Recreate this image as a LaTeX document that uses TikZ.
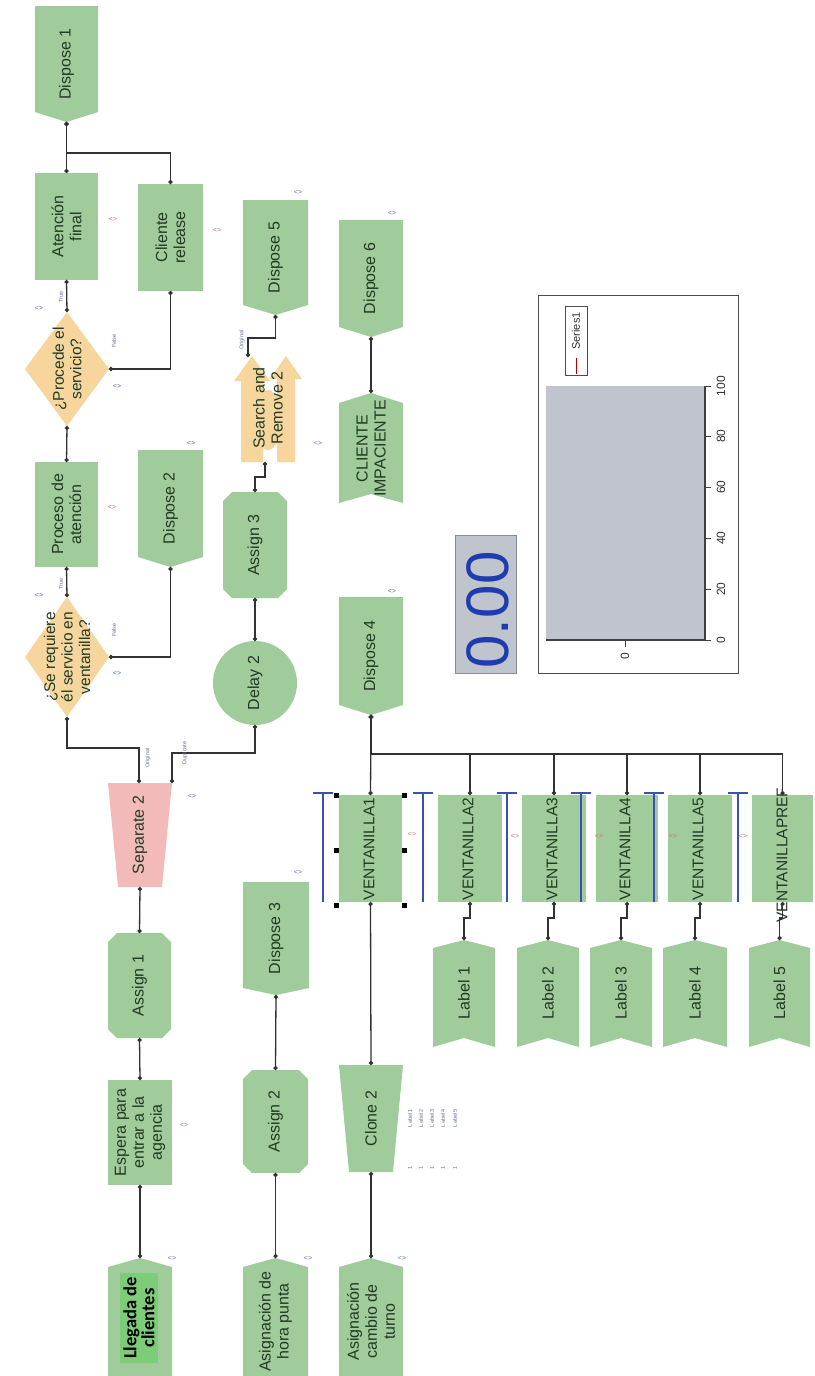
\documentclass[tikz,border=0pt]{standalone}
\usepackage{fontspec}
\setmainfont{Liberation Sans}
\newfontfamily\llegfont{Carlito}
\usetikzlibrary{arrows.meta}
\definecolor{gfill}{RGB}{160,203,155}
\definecolor{ofill}{RGB}{247,214,158}
\definecolor{pfill}{RGB}{243,186,186}
\definecolor{txtc}{RGB}{34,58,36}
\definecolor{linec}{RGB}{50,50,50}
\definecolor{resblue}{RGB}{60,80,175}
\definecolor{animblue}{RGB}{95,105,200}
\definecolor{animred}{RGB}{215,110,110}
\definecolor{tinyc}{RGB}{100,110,150}
\definecolor{brightg}{RGB}{125,205,120}
\definecolor{chartg}{RGB}{192,196,204}
\definecolor{digblue}{RGB}{30,60,175}
% name, x1, x2, y1, y2, text
\newcommand\rectblk[6]{%
  \fill[gfill] (#2,#4) rectangle (#3,#5);
  \coordinate (#1-t) at ({(#2+#3)/2},#4);
  \coordinate (#1-b) at ({(#2+#3)/2},#5);
  \node[txt] (#1) at ({(#2+#3)/2},{(#4+#5)/2}) {#6};}
% name, x1, x2, ytop, yside, ypoint, text
\newcommand\dispblk[7]{%
  \fill[gfill] (#2,#4) -- (#3,#4) -- (#3,#5) -- ({(#2+#3)/2},#6) -- (#2,#5) -- cycle;
  \coordinate (#1-t) at ({(#2+#3)/2},#4);
  \coordinate (#1-b) at ({(#2+#3)/2},#6);
  \node[txt] (#1) at ({(#2+#3)/2},{(#4+#6)/2}) {#7};}
% name, x1, x2, yapex, yside, ybottom, text
\newcommand\createblk[7]{%
  \fill[gfill] (#2,#6) -- (#2,#5) -- ({(#2+#3)/2},#4) -- (#3,#5) -- (#3,#6) -- cycle;
  \coordinate (#1-t) at ({(#2+#3)/2},#4);
  \node[txt] (#1) at ({(#2+#3)/2},{(#5+#6)/2}) {#7};}
% name, x1, x2, y1, y2, text
\newcommand\octblk[6]{%
  \fill[gfill] ({#2+9},#4) -- ({#3-9},#4) -- (#3,{#4+9}) -- (#3,{#5-9}) -- ({#3-9},#5) -- ({#2+9},#5) -- (#2,{#5-9}) -- (#2,{#4+9}) -- cycle;
  \coordinate (#1-t) at ({(#2+#3)/2},#4);
  \coordinate (#1-b) at ({(#2+#3)/2},#5);
  \node[txt] (#1) at ({(#2+#3)/2},{(#4+#5)/2}) {#6};}
% name, colour, x1, x2, ytop, ybottom, inset, text
\newcommand\trapblk[8]{%
  \fill[#2] (#3,#5) -- (#4,#5) -- ({#4-#7},#6) -- ({#3+#7},#6) -- cycle;
  \coordinate (#1-t) at ({(#3+#4)/2},#5);
  \coordinate (#1-b) at ({(#3+#4)/2},#6);
  \node[txt] (#1) at ({(#3+#4)/2},{(#5+#6)/2}) {#8};}
% name, x1, x2, yapex, yside, ybottomside, ynotch, text
\newcommand\labelblk[8]{%
  \fill[gfill] (#2,#5) -- ({(#2+#3)/2},#4) -- (#3,#5) -- (#3,#6) -- ({(#2+#3)/2},#7) -- (#2,#6) -- cycle;
  \coordinate (#1-t) at ({(#2+#3)/2},#4);
  \coordinate (#1-b) at ({(#2+#3)/2},#7);
  \node[txt] (#1) at ({(#2+#3)/2},{(#5+#7)/2}) {#8};}
\begin{document}
\begin{tikzpicture}[x=1pt,y=-1pt,
  txt/.style={rotate=90,align=center,font=\fontsize{16}{18}\selectfont,text=txtc,inner sep=0pt},
  dtxt/.style={txt,font=\fontsize{15.5}{17.5}\selectfont},
  vtxt/.style={txt,font=\fontsize{15.5}{17}\selectfont},
  conn/.style={draw=linec,line width=1.3pt,{Circle[length=4pt]}-{Circle[length=4pt]}},
  res/.style={draw=resblue,line width=1.4pt},
  anim/.style={font=\fontsize{7}{7}\selectfont,inner sep=0pt},
  tinylbl/.style={rotate=90,font=\fontsize{5.5}{6}\selectfont,text=tinyc,inner sep=0pt},
  ctxt/.style={rotate=90,font=\fontsize{12}{12}\selectfont,text=black!80,inner sep=0pt}]
\useasboundingbox (0,0) rectangle (814,1376);
\fill[white] (0,0) rectangle (814,1376);

% ---------- column 1
\dispblk{d1}{35}{98}{6}{112}{122}{Dispose 1}
\rectblk{atn}{35}{98}{173}{280}{Atención\\final}
\rectblk{cli}{138}{203}{184}{291}{Cliente\\release}
\fill[ofill] (67,312) -- (109,369) -- (67,426) -- (25,369) -- cycle;
\node[dtxt] (dec1) at (67,369) {¿Procede el\\servicio?};
\coordinate (dec1-t) at (67,312);
\coordinate (dec1-b) at (67,426);
\coordinate (dec1-r) at (109,369);
\rectblk{pa}{35}{98}{462}{567}{Proceso de\\atención}
\dispblk{d2}{138}{203}{450}{557}{567}{Dispose 2}
\fill[ofill] (67,597) -- (109,657) -- (67,717) -- (25,657) -- cycle;
\node[dtxt] (dec2) at (67,657) {¿Se requiere\\él servicio en\\ventanilla?};
\coordinate (dec2-t) at (67,597);
\coordinate (dec2-b) at (67,717);
\coordinate (dec2-r) at (109,657);
\trapblk{sep}{pfill}{108}{172}{783}{887}{10}{Separate 2}
\coordinate (sep-o1) at (139,783);
\coordinate (sep-o2) at (172,783);
\octblk{as1}{108}{171}{933}{1038}{Assign 1}
\rectblk{esp}{108}{172}{1080}{1185}{Espera para\\entrar a la\\agencia}
\createblk{lleg}{108}{172}{1258}{1267}{1376}{}
\fill[brightg] (120,1273) rectangle (158,1363);
\node[rotate=90,align=center,font=\llegfont\bfseries\fontsize{18.5}{18}\selectfont,text=black,inner sep=0pt] (llegtxt) at (139,1318) {Llegada de\\clientes};

% ---------- column 2
\fill[gfill] (255,683) circle (42);
\node[txt] (del) at (255,683) {Delay 2};
\coordinate (del-t) at (255,641);
\coordinate (del-b) at (255,725);
\octblk{as3}{223}{287}{492}{598}{Assign 3}
% search and remove
\fill[ofill] (241,462) -- (241,381) -- (234,381) -- (252,356) -- (270,381) -- (263,381) -- (263,462) -- cycle;
\fill[ofill] (277,462) -- (277,379) -- (270,379) -- (286,356) -- (302,379) -- (295,379) -- (295,462) -- cycle;
\fill[ofill] (268,420) ellipse (14 and 30);
\node[txt] (sr) at (268,408) {Search and\\Remove 2};
\coordinate (sr-t) at (248,357);
\coordinate (sr-b) at (265,462);
\dispblk{d5}{243}{308}{200}{305}{315}{Dispose 5}
\dispblk{d3}{243}{309}{882}{988}{995}{Dispose 3}
\octblk{as2}{243}{308}{1070}{1173}{Assign 2}
\createblk{hp}{243}{308}{1258}{1267}{1376}{Asignación de\\hora punta}

% ---------- column 3
\dispblk{d6}{339}{403}{220}{327}{337}{Dispose 6}
\labelblk{ci}{339}{403}{393}{403}{503}{494}{CLIENTE\\IMPACIENTE}
\dispblk{d4}{339}{403}{597}{705}{715}{Dispose 4}
\trapblk{cl}{gfill}{339}{403}{1065}{1172}{10}{Clone 2}
\createblk{ct}{339}{403}{1258}{1267}{1376}{Asignación\\cambio de\\turno}

% ---------- ventanillas
\foreach \vn/\xa/\xb in {v1/339/402, v2/438/502, v3/522/586, v4/596/658, v5/668/732, v6/752/813} {
  \fill[gfill] (\xa,795) rectangle (\xb,902);
  \coordinate (\vn-t) at ({(\xa+\xb)/2},795);
  \coordinate (\vn-b) at ({(\xa+\xb)/2},902);
}
\node[vtxt] (v1) at (369,849) {VENTANILLA1};
\node[vtxt] (v2) at (468,849) {VENTANILLA2};
\node[vtxt] (v3) at (552,849) {VENTANILLA3};
\node[vtxt] (v4) at (625,849) {VENTANILLA4};
\node[vtxt] (v5) at (698,849) {VENTANILLA5};
\node[vtxt] (v6) at (782,855) {VENTANILLAPREF};
\foreach \rx in {323,423,507,581,654,738} {
  \draw[res] (\rx,793) -- (\rx,902);
  \draw[res] ({\rx-10},793) -- ({\rx+10},793);
}
\foreach \hx in {336,404} \foreach \hy in {795,850,905}
  \fill[black] ({\hx-2.5},{\hy-2.5}) rectangle ++(5,5);

% ---------- labels
\labelblk{lb1}{433}{495}{940}{948}{1047}{1038}{Label 1}
\labelblk{lb2}{517}{579}{940}{948}{1047}{1038}{Label 2}
\labelblk{lb3}{590}{652}{940}{948}{1047}{1038}{Label 3}
\labelblk{lb4}{663}{727}{940}{948}{1047}{1038}{Label 4}
\labelblk{lb5}{749}{810}{940}{948}{1047}{1038}{Label 5}

% ---------- connectors
\draw[conn] (atn-t) -- (d1-b);
\draw[conn] (cli-t) -- ++(0,-31) -| (d1-b);
\draw[conn] (dec1-t) -- (atn-b);
\draw[conn] (dec1-r) -| (cli-b);
\draw[conn] (pa-t) -- (dec1-b);
\draw[conn] (dec2-t) -- (pa-b);
\draw[conn] (dec2-r) -| (d2-b);
\draw[conn] (sep-o1) -- ++(0,-35) -| (dec2-b);
\draw[conn] (sep-o2) -- ++(0,-30) -| (del-b);
\draw[conn] (del-t) -- (as3-b);
\draw[conn] (as3-t) -- ++(0,-15) -| (sr-b);
\draw[conn] (sr-t) -- ++(0,-19) -| (d5-b);
\draw[conn] (ci-t) -- (d6-b);
\draw[conn] (as1-t) -- (sep-b);
\draw[conn] (esp-t) -- (as1-b);
\draw[conn] (lleg-t) -- (esp-b);
\draw[conn] (as2-t) -- (d3-b);
\draw[conn] (hp-t) -- (as2-b);
\draw[conn] (v1-t) -- (d4-b);
\foreach \vn in {v2,v3,v4,v5,v6}
  \draw[conn] (\vn-t) -- ++(0,-41) -| (d4-b);
\draw[conn] (v1-b) -- (cl-t);
\draw[conn] (ct-t) -- (cl-b);
\draw[conn] (v2-b) -- ++(0,16) -| (lb1-t);
\draw[conn] (v3-b) -- ++(0,16) -| (lb2-t);
\draw[conn] (v4-b) -- ++(0,16) -| (lb3-t);
\draw[conn] (v5-b) -- ++(0,16) -| (lb4-t);
\draw[conn] (v6-b) -- ++(0,16) -| (lb5-t);

% ---------- branch labels
\node[tinylbl] (t1) at (61,297) {True};
\node[tinylbl] (f1) at (114,341) {False};
\node[tinylbl] (t2) at (61,584) {True};
\node[tinylbl] (f2) at (114,630) {False};
\node[tinylbl] (o1) at (148,758) {Original};
\node[tinylbl] (u1) at (185,753) {Duplicate};
\node[tinylbl] (o2) at (242,340) {Original};
\foreach \lx/\k in {410/1,421/2,432/3,443/4,455/5} {
  \node[tinylbl] (cl\k) at (\lx,1118) {Label \k};
  \node[tinylbl] (cn\k) at (\lx,1168) {1};
}

% ---------- animation marks
\foreach \ax/\ay in {298/192, 392/213, 39/308, 117/386, 318/443, 191/443, 39/595, 117/673, 392/591, 192/796, 298/872, 172/1258, 308/1258, 402/1258}
  \node[anim,text=animblue] at (\ax,\ay) {<>};
\foreach \ax/\ay in {113/219, 217/230, 112/507, 412/834, 515/836, 599/836, 673/836, 743/836, 184/1125}
  \node[anim,text=animred] at (\ax,\ay) {<>};

% ---------- digital display
\draw[fill=chartg,draw=black!45,line width=0.8pt] (455,535) rectangle (516,673);
\node[rotate=90,font=\fontsize{60}{60}\selectfont,text=digblue,inner sep=0pt] (dig) at (488,610) {0.00};

% ---------- chart
\draw[draw=black!70,line width=1pt,fill=white] (538,295) rectangle (738,673);
\fill[chartg] (546,386) rectangle (705,640);
\draw[black!75,line width=1.3pt] (705,386) -- (705,640) -- (546,640);
\foreach \ty/\tl in {386/100,436/80,487/60,538/40,589/20,640/0} {
  \draw[black!75,line width=1pt] (705,\ty) -- (711,\ty);
  \node[ctxt] (tk\tl) at (721,\ty) {\tl};
}
\draw[black!75,line width=1pt] (625,640) -- (625,647);
\node[ctxt] (tky) at (625,656) {0};
\draw[black!70,line width=0.9pt] (565,306) rectangle (587,375);
\node[ctxt,font=\fontsize{11}{11}\selectfont] (leg) at (576,331) {Series1};
\draw[red!70!black,line width=0.8pt] (576,358) -- (576,374);
\end{tikzpicture}
\end{document}
